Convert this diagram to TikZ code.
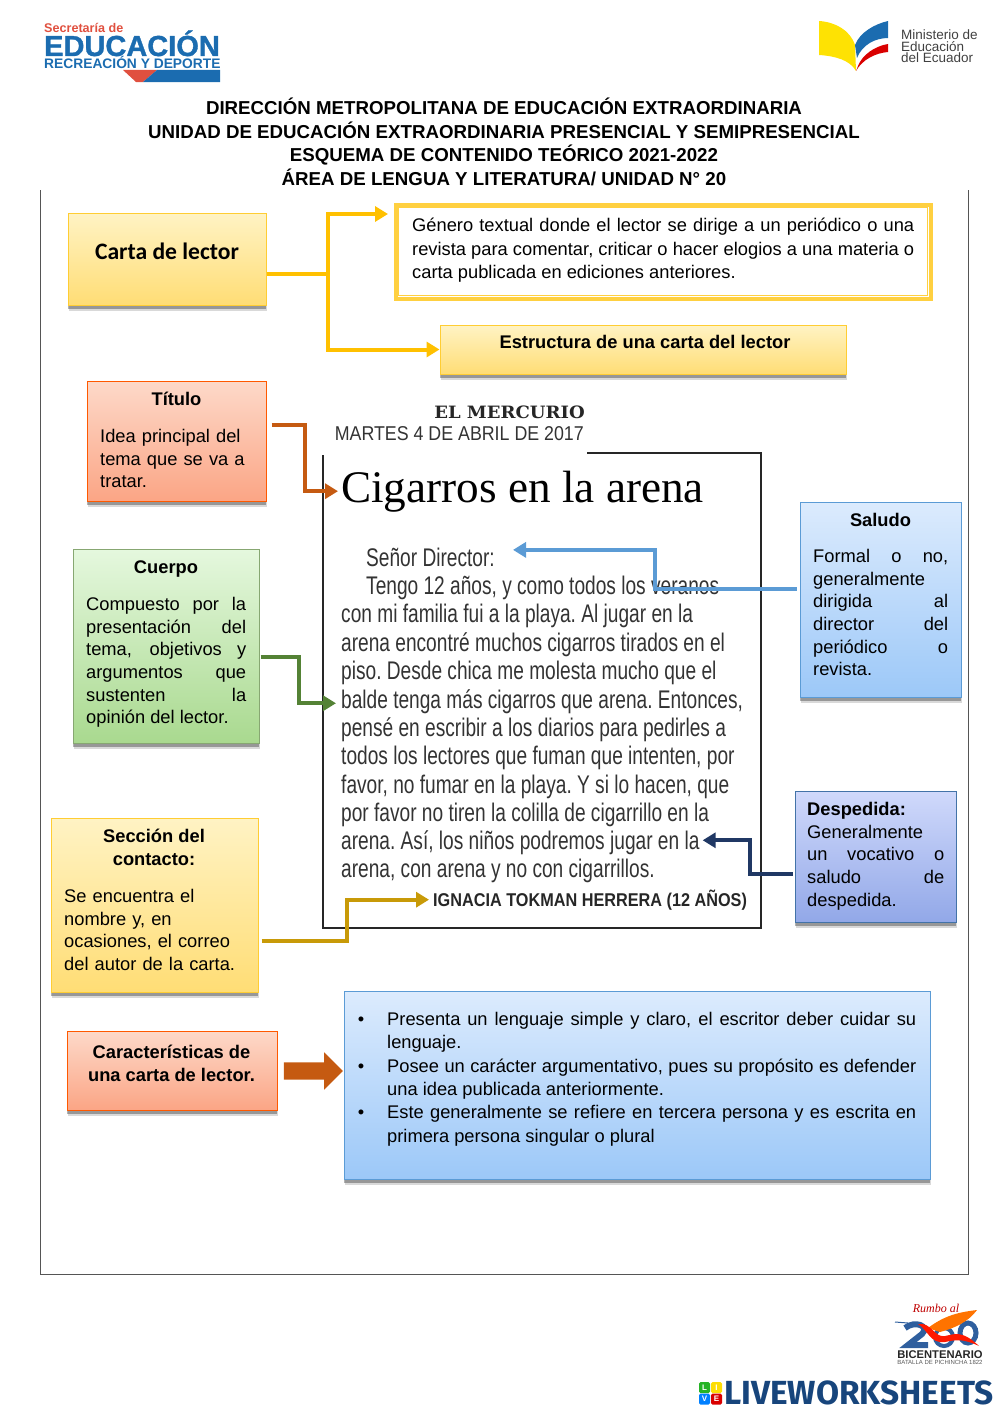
\documentclass[tikz,border=0pt]{standalone}
\usepackage{fontspec}
\usetikzlibrary{arrows.meta,shadows,shapes.arrows}
\setmainfont{Liberation Sans}
\newfontfamily\cartafont{Carlito}
\newfontfamily\newsfont[FakeStretch=0.75]{Liberation Sans}
\newfontfamily\fechafont[FakeStretch=0.89]{Liberation Sans}
\newfontfamily\firmafont[FakeStretch=0.878]{Liberation Sans}
\newfontfamily\titlefont{Liberation Serif}
\newfontfamily\slabfont[FakeStretch=1.06]{DejaVu Serif}
\newfontfamily\logofont{Fira Sans}
\newfontfamily\heavyfont[FakeBold=1.2]{Liberation Sans Bold}
\definecolor{framegray}{HTML}{555555}
\definecolor{arrowyellow}{HTML}{FFC000}
\definecolor{arroworange}{HTML}{C55A11}
\definecolor{arrowgreen}{HTML}{548235}
\definecolor{arrowblue}{HTML}{5B9BD5}
\definecolor{arrownavy}{HTML}{203864}
\definecolor{arrowgold}{HTML}{C89A08}
\definecolor{logoblue}{HTML}{1B6CB0}
\definecolor{logored}{HTML}{E0503F}
\definecolor{liveblue}{HTML}{17457C}
\definecolor{emblemblue}{HTML}{2F5F9E}
\definecolor{yellowtop}{HTML}{FFF3C4}
\definecolor{yellowend}{HTML}{FFDD75}
\definecolor{redtop}{HTML}{FDD9C9}
\definecolor{redend}{HTML}{FBA585}
\definecolor{greentop}{HTML}{E5F8DE}
\definecolor{greenend}{HTML}{A9D98F}
\definecolor{bluetop}{HTML}{DCEBFD}
\definecolor{blueend}{HTML}{9CC8F8}
\definecolor{navytop}{HTML}{D0D9FB}
\definecolor{navyend}{HTML}{92A8E8}
\tikzset{
  panel/.style={rectangle, draw, line width=1pt, minimum width=#1, inner sep=0pt,
    drop shadow={shadow xshift=1pt, shadow yshift=-6pt, fill=black, opacity=0.15},
    drop shadow={shadow xshift=0pt, shadow yshift=-3.5pt, fill=black, opacity=0.3}},
  yellowbox/.style={panel=#1, draw=arrowyellow!80, top color=yellowtop, bottom color=yellowend},
  redbox/.style={panel=#1, draw=orange!70!red, top color=redtop, bottom color=redend},
  greenbox/.style={panel=#1, draw=arrowgreen!70, top color=greentop, bottom color=greenend},
  bluebox/.style={panel=#1, draw=arrowblue, top color=bluetop, bottom color=blueend},
  navybox/.style={panel=#1, draw=arrowblue!60!arrownavy, top color=navytop, bottom color=navyend},
  boxhead/.style={font=\fontsize{18.3}{23}\selectfont\bfseries, align=center, inner sep=0pt},
  boxtext/.style={font=\fontsize{18.3}{22.7}\selectfont, align=justify, anchor=north west, inner sep=0pt},
  newsline/.style={font=\newsfont\frenchspacing\fontsize{25.5}{28}\selectfont, text=black!80, anchor=base west, inner sep=0pt},
  livesquare/.style={rectangle, rounded corners=1.5pt, text=white, minimum size=11pt, inner sep=0pt, font=\fontsize{8}{8}\selectfont\bfseries},
  connector/.style={line width=4pt, -{Triangle[length=13pt,width=15pt]}}
}
\tolerance=9999
\hyphenpenalty=10000
\begin{document}
\begin{tikzpicture}[x=1pt, y=-1pt]
    \useasboundingbox (0,0) rectangle (1000,1413);

    % logos at the top
    \node (secretaria) [anchor=west, inner sep=0pt, text=logored, font=\fontsize{12.6}{13}\selectfont\bfseries] at (44,28) {Secretaría de};
    \node (educacion) [anchor=base west, inner sep=0pt, text=logoblue, font=\heavyfont\fontsize{29}{30}\selectfont] at (44,56) {EDUCACIÓN};
    \node (recreacion) [anchor=base west, inner sep=0pt, text=logoblue, font=\fontsize{13.8}{14}\selectfont\bfseries] at (44,68) {RECREACIÓN Y DEPORTE};
    \fill [logored] (123,70) -- (157,70) -- (143,82) -- (136,82) -- cycle;
    \fill [logoblue] (157,70) -- (220,70) -- (220,82) -- (143,82) -- cycle;

    \fill [yellow!85!orange] (819,21) .. controls (835,22) and (850,30) .. (855,45) -- (856,71) .. controls (850,60) and (835,56) .. (819,55) -- cycle;
    \fill [logoblue] (855,45) .. controls (860,32) and (875,24) .. (888,21) -- (888,38) .. controls (875,38) and (862,45) .. (857,58) -- cycle;
    \fill [red!85!black] (858,66) .. controls (862,55) and (875,46) .. (888,44) -- (888,52) .. controls (875,53) and (862,60) .. (856,71) -- cycle;
    \node (ministerio) [anchor=north west, inner sep=0pt, align=left, text=black!75, font=\fontsize{13.5}{11.5}\selectfont] at (901,30) {Ministerio de\\Educación\\del Ecuador};

    % heading
    \node (heading) [inner sep=0pt, align=center, font=\fontsize{18.7}{23.7}\selectfont\bfseries] at (504,142) {DIRECCIÓN METROPOLITANA DE EDUCACIÓN EXTRAORDINARIA\\UNIDAD DE EDUCACIÓN EXTRAORDINARIA PRESENCIAL Y SEMIPRESENCIAL\\ESQUEMA DE CONTENIDO TEÓRICO 2021-2022\\ÁREA DE LENGUA Y LITERATURA/ UNIDAD N° 20};

    % page frame
    \draw [framegray, line width=1pt] (40,190) -- (40,1274) -- (968,1274) -- (968,190);

    % top row
    \node (carta) [yellowbox=198pt, minimum height=92pt] at (167,259) {};
    \node (cartatext) [inner sep=0pt, font=\cartafont\fontsize{23.6}{25}\selectfont\bfseries] at (167,251) {Carta de lector};
    \node (definicion) [rectangle, draw=arrowyellow!75, line width=4pt, fill=white, minimum width=535pt, minimum height=94pt] at (663,251.5) {};
    \node (definner) [rectangle, draw=arrowyellow!75, line width=0.8pt, minimum width=529pt, minimum height=88pt, inner sep=0pt] at (663,251.5) {};
    \node (deftext) [boxtext, text width=502pt, font=\fontsize{18.3}{23.4}\selectfont] at (412,218) {Género textual donde el lector se dirige a un periódico o una revista para comentar, criticar o hacer elogios a una materia o carta publicada en ediciones anteriores.};
    \node (estructura) [yellowbox=406pt, minimum height=49pt] at (643,349.5) {};
    \node (estructuratext) [boxhead] at (645,342) {Estructura de una carta del lector};
    \coordinate (defin) at (388,214);

    % left boxes
    \node (titulo) [redbox=179pt, minimum height=120pt] at (176.5,441) {};
    \node (titulohead) [boxhead] at (176.5,399) {Título};
    \node (titulotext) [boxtext, text width=160pt, align=left] at (100,429) {Idea principal del\\tema que se va a\\tratar.};

    \node (cuerpo) [greenbox=186pt, minimum height=194pt] at (166,646) {};
    \node (cuerpohead) [boxhead] at (166,569) {Cuerpo};
    \node (cuerpotext) [boxtext, text width=160pt] at (86,597) {Compuesto por la\linebreak presentación del\linebreak tema, objetivos y\linebreak argumentos que\linebreak sustenten la\linebreak opinión del lector.};

    \node (seccion) [yellowbox=207pt, minimum height=174pt] at (154.5,905) {};
    \node (seccionhead) [boxhead] at (154,847.5) {Sección del\\contacto:};
    \node (secciontext) [boxtext, text width=185pt, align=left] at (64,889) {Se encuentra el\\nombre y, en\\ocasiones, el correo\\del autor de la carta.};

    % right boxes
    \node (saludo) [bluebox=161pt, minimum height=195pt] at (880.5,599.5) {};
    \node (saludohead) [boxhead] at (880.5,520) {Saludo};
    \node (saludotext) [boxtext, text width=135pt] at (813,549) {Formal o no, generalmente dirigida al director del periódico o revista.};

    \node (despedida) [navybox=161pt, minimum height=131pt] at (875.5,856.5) {};
    \node (despedidatext) [boxtext, text width=137pt] at (807,802) {\textbf{Despedida:}\\Generalmente\\un vocativo o\linebreak saludo de\linebreak despedida.};

    % newspaper cutting
    \draw [black!85, line width=1.2pt] (323,455) -- (323,928) -- (761,928) -- (761,453) -- (587,453);
    \node (mercurio) [anchor=base east, inner sep=0pt, font=\slabfont\fontsize{17}{18}\selectfont\bfseries, text=black!85] at (585,418) {EL MERCURIO};
    \node (fecha) [anchor=base east, inner sep=0pt, font=\fechafont\fontsize{20}{22}\selectfont, text=black!80] at (584,440) {MARTES 4 DE ABRIL DE 2017};
    \node (cigarros) [anchor=base west, inner sep=0pt, font=\titlefont\fontsize{45.2}{48}\selectfont] at (341,502) {Cigarros en la arena};
    \node (senor) [newsline] at (366,566) {Señor Director:};
    \node (linea1) [newsline] at (366,594) {Tengo 12 años, y como todos los veranos};
    \node (linea2) [newsline] at (341,622) {con mi familia fui a la playa. Al jugar en la};
    \node (linea3) [newsline] at (341,651) {arena encontré muchos cigarros tirados en el};
    \node (linea4) [newsline] at (341,679) {piso. Desde chica me molesta mucho que el};
    \node (linea5) [newsline] at (341,708) {balde tenga más cigarros que arena. Entonces,};
    \node (linea6) [newsline] at (341,736) {pensé en escribir a los diarios para pedirles a};
    \node (linea7) [newsline] at (341,764) {todos los lectores que fuman que intenten, por};
    \node (linea8) [newsline] at (341,793) {favor, no fumar en la playa. Y si lo hacen, que};
    \node (linea9) [newsline] at (341,821) {por favor no tiren la colilla de cigarrillo en la};
    \node (linea10) [newsline] at (341,849) {arena. Así, los niños podremos jugar en la};
    \node (linea11) [newsline] at (341,877) {arena, con arena y no con cigarrillos.};
    \node (firma) [anchor=base west, inner sep=0pt, font=\firmafont\fontsize{18.5}{20}\selectfont\bfseries, text=black!85] at (433,906) {IGNACIA TOKMAN HERRERA (12 AÑOS)};

    % bottom row
    \node (caracteristicas) [redbox=210pt, minimum height=79pt] at (172,1070.5) {};
    \node (caracteristicastext) [boxhead] at (171.5,1063.5) {Características de\\una carta de lector.};
    \node (flecha) [single arrow, fill=arroworange, text height=8.5pt, text depth=8.5pt, minimum height=59pt, single arrow head extend=10pt, inner sep=0pt] at (309,1071) {};
    \node (lista) [bluebox=586pt, minimum height=188pt] at (637,1085) {};
    \node (listatext) [boxtext, text width=555pt, font=\fontsize{18.3}{23.4}\selectfont] at (361,1017) {\setlength{\leftmargini}{26pt}\setlength{\labelsep}{23pt}\vspace{-\baselineskip}\begin{itemize}\setlength{\topsep}{0pt}\setlength{\itemsep}{0pt}\setlength{\parsep}{0pt}\setlength{\parskip}{0pt}
      \item Presenta un lenguaje simple y claro, el escritor deber cuidar su lenguaje.
      \item Posee un carácter argumentativo, pues su propósito es defender una idea publicada anteriormente.
      \item Este generalmente se refiere en tercera persona y es escrita en primera persona singular o plural
    \end{itemize}};

    % connectors
    \draw [connector, arrowyellow] ([yshift=-15pt]carta.east) -- ++(61,0) |- (defin);
    \draw [connector, arrowyellow] ([yshift=-15pt]carta.east) -- ++(61,0) |- (estructura.west);
    \draw [connector, arroworange] ([xshift=5pt,yshift=16pt]titulo.east) -- ++(33,0) |- ([xshift=-3pt]cigarros.west);
    \draw [connector, arrowgreen] ([xshift=1pt,yshift=-11pt]cuerpo.east) -- ++(38,0) |- ([xshift=-5pt,yshift=-2pt]linea5.west);
    \draw [connector, arrowgold] ([xshift=3pt,yshift=-36pt]seccion.east) -- ++(85,0) |- ([xshift=-4pt]firma.west);
    \draw [connector, arrowblue] ([xshift=-3pt,yshift=10.5pt]saludo.west) -- ++(-142,0) |- ([xshift=18pt,yshift=7pt]senor.east);
    \draw [connector, arrownavy] ([xshift=-2pt,yshift=-17pt]despedida.west) -- ++(-43,0) |- ([xshift=3pt,yshift=2pt]linea10.east);

    % logos at the bottom
    \node (rumbo) [inner sep=0pt, text=red!75!black, font=\titlefont\fontsize{12}{12}\selectfont\itshape] at (936,1308) {Rumbo al};
    \draw [emblemblue, line width=1pt] (895,1322) -- (908,1323);
    \draw [emblemblue, line width=6pt] (905,1328) .. controls (915,1320) and (930,1326) .. (922,1334) -- (908,1345) -- (928,1345);
    \draw [emblemblue, line width=4pt] (944,1337) ellipse [x radius=9, y radius=9];
    \draw [emblemblue, line width=5pt] (968,1333) ellipse [x radius=8, y radius=10];
    \fill [orange!90!red] (928,1328) .. controls (945,1315) and (960,1312) .. (977,1310) .. controls (968,1322) and (955,1328) .. (940,1332) -- cycle;
    \fill [red!80!orange] (918,1324) .. controls (932,1322) and (934,1338) .. (945,1336) .. controls (955,1334) and (962,1330) .. (979,1346) .. controls (962,1338) and (955,1340) .. (945,1342) .. controls (930,1344) and (928,1330) .. (918,1324) -- cycle;
    \node (bicentenario) [inner sep=0pt, text=black!85, font=\fontsize{11.2}{12}\selectfont\bfseries] at (940,1355) {BICENTENARIO};
    \node (batalla) [inner sep=0pt, text=black!65, font=\fontsize{6}{6}\selectfont] at (940,1362.5) {BATALLA DE PICHINCHA 1822};

    \node (cuadrol) [livesquare, fill=green!65!black!85] at (704.5,1387.5) {L};
    \node (cuadroi) [livesquare, fill=yellow!80!orange] at (716.5,1387.5) {I};
    \node (cuadrov) [livesquare, fill=blue!50!cyan] at (704.5,1399) {V};
    \node (cuadroe) [livesquare, fill=red!85!black] at (716.5,1399) {E};
    \node (live) [anchor=base west, inner sep=0pt, text=liveblue, font=\logofont\fontsize{33.4}{34}\selectfont\bfseries] at (724,1404) {LIVEWORKSHEETS};
\end{tikzpicture}
\end{document}
